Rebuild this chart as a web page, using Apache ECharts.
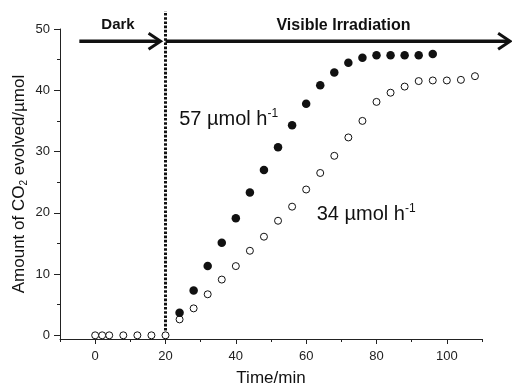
<!DOCTYPE html>
<html><head><meta charset="utf-8">
<script src="https://cdn.jsdelivr.net/npm/echarts@6/dist/echarts.min.js"></script>
<style>html,body{margin:0;padding:0;background:#fff}#c{width:512px;height:387px}</style>
</head><body><div id="c"></div>
<script>
// ---- data ----
const timeDark = [0, 2, 4, 8, 12, 16, 20];
const co2Dark = [0, 0, 0, 0, 0, 0, 0];
const time57 = [24, 28, 32, 36, 40, 44, 48, 52, 56, 60, 64, 68, 72, 76, 80, 84, 88, 92, 96];
const co2_57 = [3.7, 7.3, 11.3, 15.1, 19.1, 23.3, 27.0, 30.7, 34.3, 37.8, 40.8, 42.9, 44.5, 45.3, 45.7, 45.7, 45.7, 45.7, 45.9];
const time34 = [24, 28, 32, 36, 40, 44, 48, 52, 56, 60, 64, 68, 72, 76, 80, 84, 88, 92, 96, 100, 104, 108];
const co2_34 = [2.6, 4.4, 6.7, 9.1, 11.3, 13.8, 16.1, 18.7, 21.0, 23.8, 26.5, 29.3, 32.3, 35.0, 38.1, 39.6, 40.6, 41.5, 41.6, 41.6, 41.7, 42.3];
const xMajorTicks = [0, 20, 40, 60, 80, 100];
const xMinorTicks = [-10, 10, 30, 50, 70, 90, 110];
const yMajorTicks = [0, 10, 20, 30, 40, 50];
const yMinorTicks = [5, 15, 25, 35, 45];
const phaseNames = ['Dark', 'Visible Irradiation'];
const rateNames = ['57 µmol h', '34 µmol h'];
const rateExp = '-1';
const lightOnTime = 20;

// ---- layout / annotation placement (data coords) ----
const X_MIN = -10, X_MAX = 110, Y_MIN = -0.6, Y_MAX = 50;
const ann = {
  arrowY: 48,
  arrows: [[-4.5, 18.6], [20, 118]],
  dividerTop: 52.9,
  phasePos: [[6.5, 50.6], [70.6, 50.6]],
  phaseSize: [15, 16],
  ratePos: [[23.9, 35.2], [63.0, 19.7]]
};
const FONT = '"Liberation Sans", Arial, Helvetica, sans-serif';
const INK = '#111';

function pairs(xs, ys) { return xs.map((x, i) => [x, ys[i]]); }

const chart = echarts.init(document.getElementById('c'), null, {renderer: 'canvas'});

function renderAnn(params, api) {
  const ch = [];
  const d0 = api.coord([lightOnTime, Y_MIN]);
  const d1 = api.coord([lightOnTime, ann.dividerTop]);
  ch.push({type: 'line', shape: {x1: d0[0], y1: d0[1], x2: d1[0], y2: d1[1]},
    style: {stroke: INK, lineWidth: 3, lineDash: [2.6, 1.6]}});
  ann.arrows.forEach(([a, b]) => {
    const s = api.coord([a, ann.arrowY]);
    const e = api.coord([b, ann.arrowY]);
    ch.push({type: 'line', shape: {x1: s[0], y1: s[1], x2: e[0] - 1, y2: e[1]},
      style: {stroke: INK, lineWidth: 3.5}});
    ch.push({type: 'polyline', shape: {points: [[e[0] - 12, e[1] - 8], [e[0], e[1]], [e[0] - 12, e[1] + 8]]},
      style: {stroke: INK, lineWidth: 3, fill: null}});
  });
  phaseNames.forEach((t, i) => {
    const p = api.coord(ann.phasePos[i]);
    ch.push({type: 'text', x: p[0], y: p[1], style: {text: t, fontSize: ann.phaseSize[i], fontWeight: 'bold',
      fontFamily: FONT, fill: INK, align: 'center', verticalAlign: 'middle'}});
  });
  rateNames.forEach((t, i) => {
    const p = api.coord(ann.ratePos[i]);
    ch.push({type: 'text', x: p[0], y: p[1], style: {
      text: '{m|' + t + '}{s|' + rateExp + '}', align: 'left', verticalAlign: 'middle',
      rich: {
        m: {fontSize: 20, fontFamily: FONT, fill: INK, lineHeight: 23},
        s: {fontSize: 12, fontFamily: FONT, fill: INK, lineHeight: 12, verticalAlign: 'top'}
      }}});
  });
  return {type: 'group', children: ch};
}

const axisLineStyle = {color: '#222', width: 1};
const option = {
  animation: false,
  backgroundColor: '#fff',
  grid: {left: 60, right: 30, top: 29, bottom: 48, containLabel: false, outerBoundsMode: 'none'},
  xAxis: [
    {type: 'value', min: X_MIN, max: X_MAX, position: 'bottom',
      axisLine: {show: true, onZero: false, lineStyle: axisLineStyle},
      axisTick: {show: true, customValues: xMajorTicks, length: 5, lineStyle: axisLineStyle},
      axisLabel: {customValues: xMajorTicks, margin: 11, fontSize: 13, color: '#222', fontFamily: FONT},
      splitLine: {show: false},
      name: 'Time/min', nameLocation: 'middle', nameGap: 31, nameMoveOverlap: false,
      nameTextStyle: {fontSize: 17, color: INK, fontFamily: FONT}},
    {type: 'value', min: X_MIN, max: X_MAX, position: 'bottom',
      axisLine: {show: false, onZero: false},
      axisTick: {show: true, customValues: xMinorTicks, length: 3, lineStyle: axisLineStyle},
      axisLabel: {show: false}, splitLine: {show: false}}
  ],
  yAxis: [
    {type: 'value', min: Y_MIN, max: Y_MAX, position: 'left',
      axisLine: {show: true, onZero: false, lineStyle: axisLineStyle},
      axisTick: {show: true, customValues: yMajorTicks, length: 6, lineStyle: axisLineStyle},
      axisLabel: {customValues: yMajorTicks, margin: 10, fontSize: 13, color: '#222', fontFamily: FONT},
      splitLine: {show: false},
      name: '{a|Amount of CO}{s|2}{a| evolved/µmol}', nameLocation: 'middle', nameGap: 31, nameRotate: 90,
      nameMoveOverlap: false,
      nameTextStyle: {rich: {
        a: {fontSize: 17, color: INK, fontFamily: FONT, lineHeight: 20},
        s: {fontSize: 10, color: INK, fontFamily: FONT, lineHeight: 10, verticalAlign: 'bottom'}
      }}},
    {type: 'value', min: Y_MIN, max: Y_MAX, position: 'left',
      axisLine: {show: false, onZero: false},
      axisTick: {show: true, customValues: yMinorTicks, length: 3, lineStyle: axisLineStyle},
      axisLabel: {show: false}, splitLine: {show: false}}
  ],
  series: [
    {name: 'dark', type: 'scatter', data: pairs(timeDark, co2Dark), symbol: 'circle', symbolSize: 7,
      itemStyle: {color: '#fff', borderColor: INK, borderWidth: 1, opacity: 1}, silent: true, z: 3},
    {name: '34', type: 'scatter', data: pairs(time34, co2_34), symbol: 'circle', symbolSize: 7,
      itemStyle: {color: '#fff', borderColor: INK, borderWidth: 1, opacity: 1}, silent: true, z: 3},
    {name: '57', type: 'scatter', data: pairs(time57, co2_57), symbol: 'circle', symbolSize: 8.5,
      itemStyle: {color: INK, opacity: 1}, silent: true, z: 4},
    {name: 'annotations', type: 'custom', data: [[0, 0]], renderItem: renderAnn, clip: false, silent: true, z: 2}
  ]
};
chart.setOption(option);
</script></body></html>
